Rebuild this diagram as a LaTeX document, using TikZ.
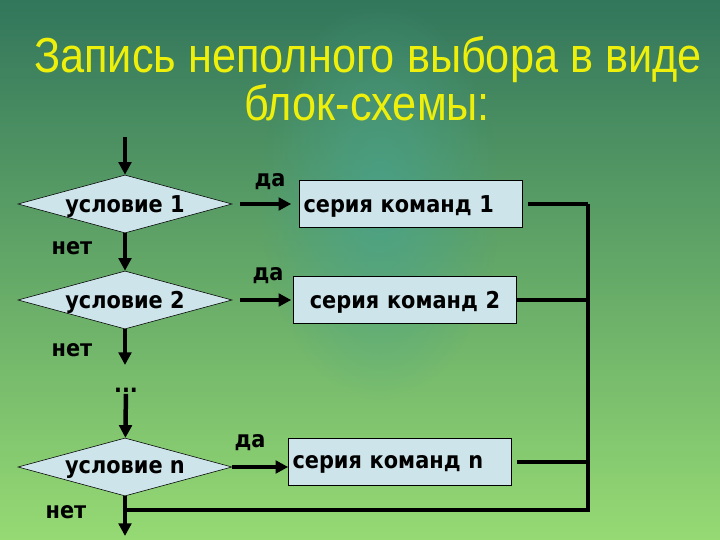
\documentclass[tikz,border=0pt]{standalone}
\usepackage{fontspec}
\setmainfont{Liberation Sans}
\newfontfamily\titlefont[FakeStretch=0.88]{Liberation Sans}
\newfontfamily\blockfont{DejaVu Sans Condensed}
\usetikzlibrary{shapes.geometric,arrows.meta,fadings}

\definecolor{blockfill}{RGB}{204,228,234}
\definecolor{titleyellow}{RGB}{238,240,12}
\definecolor{bgtop}{RGB}{50,118,92}
\definecolor{bgmid}{RGB}{60,138,100}
\definecolor{bgbot}{RGB}{150,218,116}
\definecolor{bgglow}{RGB}{72,162,142}

\tikzfading[name=softglow, inner color=transparent!20, outer color=transparent!100]

\begin{document}
\begin{tikzpicture}[
    cond/.style={diamond, aspect=3.69, draw, fill=blockfill, inner sep=0pt,
        minimum width=5.35cm, minimum height=1.45cm, text depth=0pt,
        font=\blockfont\bfseries\fontsize{16.5}{19}\selectfont},
    cmd/.style={rectangle, draw, fill=blockfill, inner xsep=0.1cm,
        text width=5.375cm, minimum height=1.175cm, align=left, text depth=0pt,
        font=\blockfont\bfseries\fontsize{16.5}{19}\selectfont},
    lbl/.style={font=\blockfont\bfseries\fontsize{16.5}{19}\selectfont},
    heading/.style={anchor=base, text=titleyellow,
        font=\titlefont\fontsize{35}{40}\selectfont},
    flow/.style={line width=3.2pt},
    >={Triangle[length=9pt,width=9pt]}
]
        % Background
        \shade[top color=bgtop, middle color=bgmid, bottom color=bgbot]
            (0,0) rectangle (18,13.5);
        \fill[bgglow, path fading=softglow]
            (9.5,8.5) ellipse (3cm and 5cm);
        \useasboundingbox (0,0) rectangle (18,13.5);

        % Title
        \node[heading] (title1) at (9.2,11.675) {Запись неполного выбора в виде};
        \node[heading] (title2) at (9.175,10.475) {блок-схемы:};

        % Conditions
        \node[cond] (c1) at (3.125,8.4) {условие 1};
        \node[cond] (c2) at (3.125,6.0) {условие 2};
        \node[lbl, inner sep=1pt] (dots) at (3.15,3.75) {...};
        \node[cond] (cn) at (3.125,1.825) {условие n};

        % Command series
        \node[cmd] (s1) at (10.275,8.4) {серия команд 1};
        \node[cmd, align=center] (s2) at (10.125,6.0) {серия команд 2};
        \node[cmd] (sn) at (10.0,1.95) {серия команд n};

        % Free ends
        \coordinate (start) at (3.125,10.075);
        \coordinate (gap) at (3.125,4.375);
        \coordinate (end) at (3.125,0.1);
        \coordinate (join) at (14.7,0.75);

        % Draw the "no" branch
        \draw[flow,->] (start) -- (c1);
        \draw[flow,->] (c1) -- (c2);
        \draw[flow,->] (c2) -- (gap);
        \draw[flow,->] (dots) -- (cn);
        \draw[flow,->] (cn) -- (end);

        % Draw the "yes" arrows
        \draw[flow,->] ([xshift=0.2cm]c1.east) -- ([xshift=-0.2cm]s1.west |- c1.east);
        \draw[flow,->] ([xshift=0.2cm]c2.east) -- ([xshift=-0.05cm]s2.west |- c2.east);
        \draw[flow,->] (cn.east) -- (cn.east -| sn.west);

        % Draw the joining lines
        \draw[flow] ([xshift=0.125cm]s1.east) -- (join |- s1.east);
        \draw[flow] (s2.east) -- (join |- s2.east);
        \draw[flow] ([xshift=0.125cm]sn.east) -- (join |- sn.east);
        \draw[flow] (join |- s1.east) -- (join) -- (cn |- join);

        % Add labels
        \node[lbl] (yes1) at (6.75,8.95) {да};
        \node[lbl] (yes2) at (6.7,6.6) {да};
        \node[lbl] (yesn) at (6.25,2.425) {да};
        \node[lbl] (no1) at (1.8,7.3) {нет};
        \node[lbl] (no2) at (1.8,4.75) {нет};
        \node[lbl] (non) at (1.65,0.7) {нет};
\end{tikzpicture}
\end{document}
